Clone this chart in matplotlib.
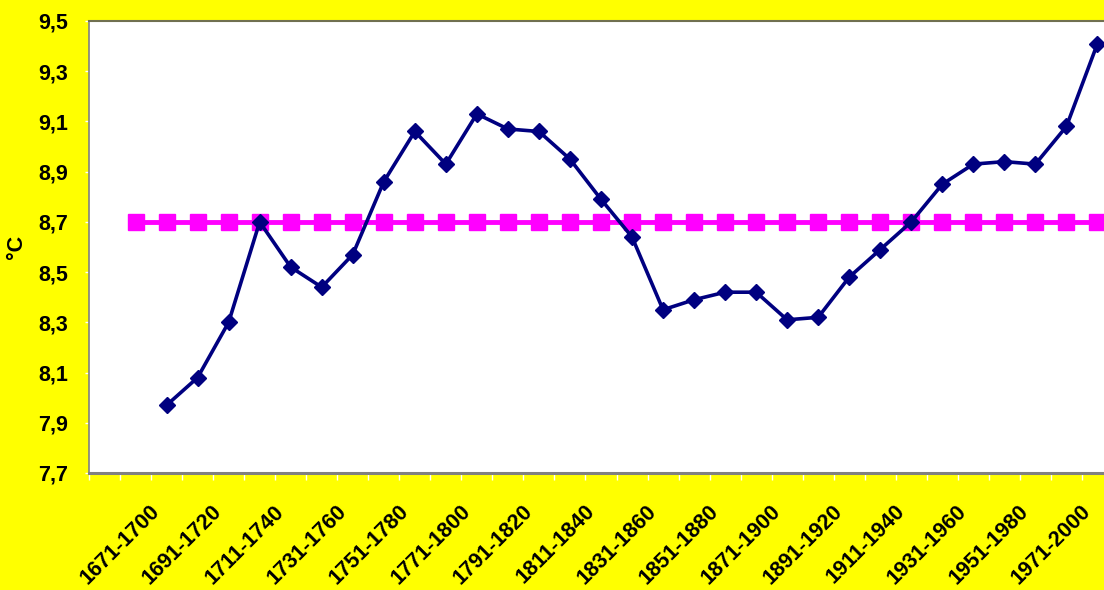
import numpy as np
import matplotlib.pyplot as plt
from matplotlib.transforms import ScaledTranslation

# 30-year running windows, step 10 years
periods = ['1671-1700', '1681-1710', '1691-1720', '1701-1730', '1711-1740',
           '1721-1750', '1731-1760', '1741-1770', '1751-1780', '1761-1790',
           '1771-1800', '1781-1810', '1791-1820', '1801-1830', '1811-1840',
           '1821-1850', '1831-1860', '1841-1870', '1851-1880', '1861-1890',
           '1871-1900', '1881-1910', '1891-1920', '1901-1930', '1911-1940',
           '1921-1950', '1931-1960', '1941-1970', '1951-1980', '1961-1990',
           '1971-2000']
temps = [7.97, 8.08, 8.30, 8.70, 8.52, 8.44, 8.57, 8.86, 9.06, 8.93,
         9.13, 9.07, 9.06, 8.95, 8.79, 8.64, 8.35, 8.39, 8.42, 8.42,
         8.31, 8.32, 8.48, 8.59, 8.70, 8.85, 8.93, 8.94, 8.93, 9.08,
         9.41]
mean_temp = 8.7
yticks = [7.7, 7.9, 8.1, 8.3, 8.5, 8.7, 8.9, 9.1, 9.3, 9.5]

plt.rcParams['font.family'] = ['Liberation Sans', 'DejaVu Sans']
plt.rcParams['font.weight'] = 'bold'

fig = plt.figure(figsize=(11.04, 5.90), dpi=100, facecolor='#ffff00')
ax = fig.add_axes([89/1104, 117/590, 1055/1104, 452/590])
ax.set_facecolor('white')

x = np.arange(len(periods))
# mean line starts one category before the data
xm = np.arange(-1, len(periods))
ax.plot(xm, np.full(len(xm), mean_temp), color='#ff00ff', lw=3.5,
        marker='s', ms=11, mec='#ff00ff', zorder=2)
ax.plot(x, temps, color='#000080', lw=2.6, marker='D', ms=8,
        mec='#000080', zorder=3)

ax.set_xlim(-2.5, 31.5)
ax.set_ylim(7.7, 9.5)
ax.set_yticks(yticks)
ax.set_yticklabels([f'{v:.1f}'.replace('.', ',') for v in yticks],
                   fontsize=15.5, fontweight='bold')
ax.tick_params(axis='y', length=3, width=1, color='white', pad=12)

# category labels, every other one, rotated like the spreadsheet original
ax.set_xticks([])
ax.set_xticks(np.arange(-2.5, 32, 1), minor=True)
ax.tick_params(axis='x', which='minor', length=5, width=1, color='white')
shift = ScaledTranslation(-17/100, -28/100, fig.dpi_scale_trans)
for i in x[::2]:
    ax.text(i, 0, periods[i], transform=ax.get_xaxis_transform() + shift,
            rotation=45, ha='right', va='top', rotation_mode='anchor',
            fontsize=15.5, fontweight='bold')

ax.set_ylabel('°C', fontsize=15.5, fontweight='bold')
ax.yaxis.set_label_coords(-0.0588, 0.5)

for s in ['left', 'bottom', 'top', 'right']:
    ax.spines[s].set_color('#808080')
ax.spines['bottom'].set_linewidth(2.2)
ax.spines['top'].set_color('#707050')
ax.spines['top'].set_linewidth(1.5)
ax.spines['left'].set_linewidth(1.2)

fig.savefig('out.png', dpi=100, facecolor=fig.get_facecolor())
